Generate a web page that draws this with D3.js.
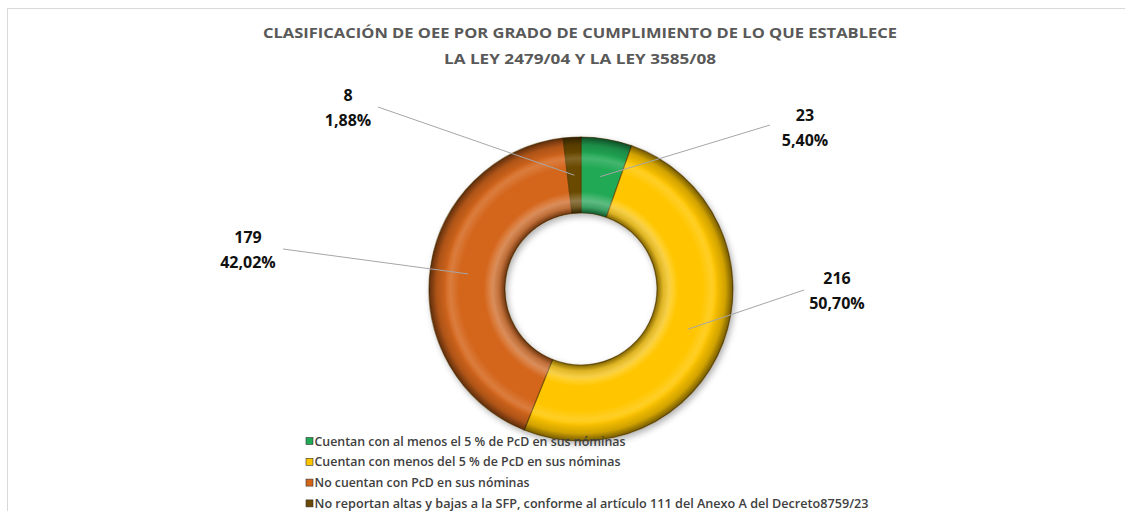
<!DOCTYPE html>
<html>
<head>
<meta charset="utf-8">
<script src="https://cdn.jsdelivr.net/npm/d3@7"></script>
<style>
  body { margin: 0; background: #fff; }
  text { font-family: "Open Sans", sans-serif; }
</style>
</head>
<body>
<script>
// data
const categories = [
  'Cuentan con al menos el 5 % de PcD en sus nóminas',
  'Cuentan con menos del 5 % de PcD en sus nóminas',
  'No cuentan con PcD en sus nóminas',
  'No reportan altas y bajas a la SFP, conforme al artículo 111 del Anexo A del Decreto8759/23'
];
const counts = [23, 216, 179, 8];
const percentLabels = ['5,40%', '50,70%', '42,02%', '1,88%'];
const colors = ['#20a955', '#ffc600', '#d4661a', '#6a4806'];
const titleLines = [
  'CLASIFICACIÓN DE OEE POR GRADO DE CUMPLIMIENTO DE LO QUE ESTABLECE',
  'LA LEY 2479/04 Y LA LEY 3585/08'
];

// layout: where Excel left the data labels, relative to the donut centre
const labelOffsets = [[224, -162], [256, 1], [-333, -40], [-233, -182]];
const lineEnds = [[189, -164], [223, 1], [-298, -40], [-203, -182]];
const legendWidths = [311, 306, 215, 554];

const W = 1125, H = 511;
const cx = 581, cy = 289, rOuter = 152, rInner = 76;

const svg = d3.select('body').append('svg')
  .attr('width', W)
  .attr('height', H);

// chart frame
svg.append('path')
  .attr('d', `M7.5,${H} V8.5 H${W}`)
  .attr('fill', 'none')
  .attr('stroke', '#d9d9d9');

const defs = svg.append('defs');

// gradients live in the donut group's coordinates (centre at 0,0)
const shade = defs.append('radialGradient')
  .attr('id', 'shade')
  .attr('gradientUnits', 'userSpaceOnUse')
  .attr('cx', 0).attr('cy', 0).attr('r', rOuter);
[[0.5, 0.5], [0.54, 0.15], [0.6, 0], [0.88, 0], [0.95, 0.18], [1, 0.55]].forEach(([o, a]) => {
  shade.append('stop').attr('offset', o).attr('stop-color', '#000').attr('stop-opacity', a);
});

const shine = defs.append('radialGradient')
  .attr('id', 'shine')
  .attr('gradientUnits', 'userSpaceOnUse')
  .attr('cx', 0).attr('cy', 0).attr('r', rOuter);
[[0.5, 0], [0.58, 0.28], [0.64, 0], [0.8, 0], [0.86, 0.15], [0.9, 0]].forEach(([o, a]) => {
  shine.append('stop').attr('offset', o).attr('stop-color', '#fff').attr('stop-opacity', a);
});

defs.append('filter').attr('id', 'drop')
  .attr('x', '-20%').attr('y', '-20%').attr('width', '140%').attr('height', '140%')
  .append('feDropShadow')
  .attr('dx', 2).attr('dy', 3).attr('stdDeviation', 3)
  .attr('flood-color', '#000').attr('flood-opacity', 0.3);

// title
svg.append('g').selectAll('text')
  .data(titleLines)
  .enter()
  .append('text')
  .attr('x', 580)
  .attr('y', (d, i) => 38 + i * 26)
  .attr('text-anchor', 'middle')
  .attr('font-size', 15)
  .attr('font-weight', 700)
  .attr('fill', '#595959')
  .attr('textLength', (d, i) => i === 0 ? 634 : 272)
  .attr('lengthAdjust', 'spacingAndGlyphs')
  .text((d) => d);

// donut
const pie = d3.pie().sort(null).value((d) => d);
const arcs = pie(counts);
const arc = d3.arc().innerRadius(rInner).outerRadius(rOuter);

const donut = svg.append('g')
  .attr('transform', `translate(${cx},${cy})`);

const slices = donut.append('g').attr('filter', 'url(#drop)');
slices.selectAll('path')
  .data(arcs)
  .enter()
  .append('path')
  .attr('d', arc)
  .attr('fill', (d, i) => colors[i])
  .attr('stroke', '#5a3c00')
  .attr('stroke-opacity', 0.6)
  .attr('stroke-width', 1.2);

// bevel shading over each slice
donut.selectAll('path.shade')
  .data(arcs)
  .enter()
  .append('path')
  .attr('class', 'shade')
  .attr('d', arc)
  .attr('fill', 'url(#shade)');
donut.selectAll('path.shine')
  .data(arcs)
  .enter()
  .append('path')
  .attr('class', 'shine')
  .attr('d', arc)
  .attr('fill', 'url(#shine)');

// labels with leader lines
const labels = svg.append('g');
arcs.forEach((d, i) => {
  const c = arc.centroid(d);
  labels.append('line')
    .attr('x1', cx + c[0]).attr('y1', cy + c[1])
    .attr('x2', cx + lineEnds[i][0]).attr('y2', cy + lineEnds[i][1])
    .attr('stroke', '#a6a6a6')
    .attr('stroke-width', 1);
  const t = labels.append('text')
    .attr('x', cx + labelOffsets[i][0])
    .attr('y', cy + labelOffsets[i][1])
    .attr('text-anchor', 'middle')
    .attr('font-size', 16)
    .attr('font-weight', 700)
    .attr('fill', '#111');
  t.append('tspan').attr('x', cx + labelOffsets[i][0]).attr('dy', -6).text(counts[i]);
  t.append('tspan').attr('x', cx + labelOffsets[i][0]).attr('dy', 25).text(percentLabels[i]);
});

// legend
const legend = svg.append('g')
  .selectAll('g')
  .data(categories)
  .enter()
  .append('g')
  .attr('transform', (d, i) => `translate(306,${441 + i * 20.8})`);

legend.append('rect')
  .attr('x', 0).attr('y', -3.5)
  .attr('width', 7).attr('height', 7)
  .attr('fill', (d, i) => colors[i])
  .attr('stroke', '#333')
  .attr('stroke-width', 0.6);

legend.append('text')
  .attr('x', 8.5)
  .attr('y', 4.5)
  .attr('font-size', 12.5)
  .attr('font-weight', 600)
  .attr('fill', '#404040')
  .attr('textLength', (d, i) => legendWidths[i])
  .attr('lengthAdjust', 'spacingAndGlyphs')
  .text((d) => d);
</script>
</body>
</html>
